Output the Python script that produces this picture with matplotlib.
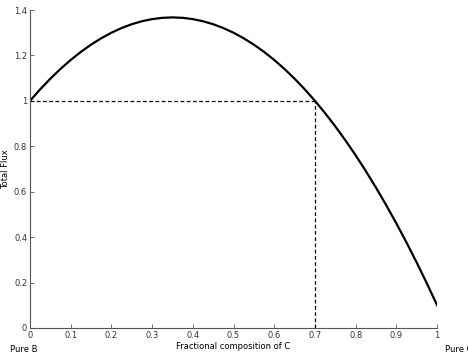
import matplotlib
matplotlib.use("Agg")
import matplotlib.pyplot as plt

# Fractional composition of C and total flux
frac_c = [0.0, 0.025, 0.05, 0.075, 0.1, 0.125, 0.15, 0.175, 0.2, 0.225, 0.25,
          0.275, 0.3, 0.325, 0.35, 0.375, 0.4, 0.425, 0.45, 0.475, 0.5,
          0.525, 0.55, 0.575, 0.6, 0.625, 0.65, 0.675, 0.7, 0.725, 0.75,
          0.775, 0.8, 0.825, 0.85, 0.875, 0.9, 0.925, 0.95, 0.975, 1.0]
total_flux = [1.0, 1.0506, 1.0975, 1.1406, 1.18, 1.2156, 1.2475, 1.2756, 1.30, 1.3206, 1.3375,
              1.3506, 1.36, 1.3656, 1.3675, 1.3656, 1.36, 1.3506, 1.3375, 1.3206, 1.30,
              1.2756, 1.2475, 1.2156, 1.18, 1.1406, 1.0975, 1.0506, 1.0, 0.9456, 0.8875,
              0.8256, 0.76, 0.6906, 0.6175, 0.5406, 0.46, 0.3756, 0.2875, 0.1956, 0.1]

# crossing point where flux returns to 1
cross_x = 0.7
cross_y = 1.0

xticks = [0, 0.1, 0.2, 0.3, 0.4, 0.5, 0.6, 0.7, 0.8, 0.9, 1]
xticklabels = ["0", "0.1", "0.2", "0.3", "0.4", "0.5", "0.6", "0.7", "0.8", "0.9", "1"]
yticks = [0, 0.2, 0.4, 0.6, 0.8, 1, 1.2, 1.4]
yticklabels = ["0", "0.2", "0.4", "0.6", "0.8", "1", "1.2", "1.4"]

fig = plt.figure(figsize=(4.68, 3.58), dpi=100)
ax = fig.add_axes([0.064, 0.084, 0.870, 0.888])

ax.plot(frac_c, total_flux, color="black", linewidth=1.6)
ax.plot([0, cross_x], [cross_y, cross_y], color="black", linestyle="--", linewidth=0.9, dashes=(3, 2))
ax.plot([cross_x, cross_x], [0, cross_y], color="black", linestyle="--", linewidth=0.9, dashes=(3, 2))

ax.set_xlim(0, 1)
ax.set_ylim(0, 1.4)
ax.set_xticks(xticks)
ax.set_xticklabels(xticklabels)
ax.set_yticks(yticks)
ax.set_yticklabels(yticklabels)
ax.tick_params(direction="in", length=3, width=0.5, labelsize=6, colors="#333333", pad=2)

for side in ["top", "right"]:
    ax.spines[side].set_visible(False)
for side in ["left", "bottom"]:
    ax.spines[side].set_color("#555555")
    ax.spines[side].set_linewidth(0.8)

ax.set_xlabel("Fractional composition of C", fontsize=6, labelpad=2)
fig.text(6 / 468, 0.5 + 0.084 / 2 - 0.028 / 2, "Total Flux", fontsize=6,
         rotation=90, ha="center", va="center")

fig.text(10 / 468, 1 - 350 / 358, "Pure B", fontsize=6, ha="left", va="center")
fig.text(445 / 468, 1 - 350 / 358, "Pure C", fontsize=6, ha="left", va="center")

fig.savefig("out.png", dpi=100)
